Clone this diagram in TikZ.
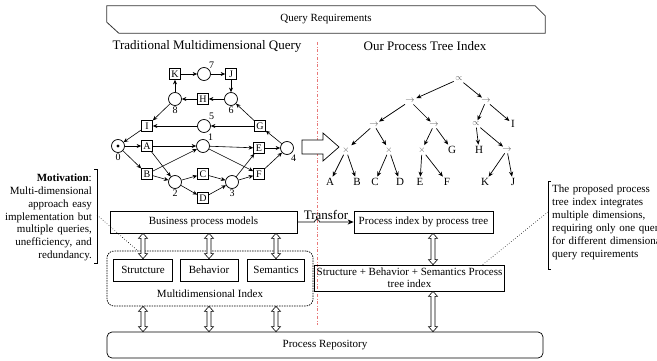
\documentclass[tikz,border=0pt]{standalone}
\usepackage{fontspec}
\setmainfont{Liberation Serif}
\usetikzlibrary{arrows.meta,positioning,calc}
\definecolor{sepred}{RGB}{232,120,120}

\begin{document}
\begin{tikzpicture}[
  x=1pt,y=-1pt,
  every node/.style={font=\fontsize{11}{13}\selectfont},
  title/.style={font=\fontsize{13}{13}\selectfont},
  box/.style={rectangle,draw,line width=0.7pt,inner sep=2pt,minimum height=22pt},
  place/.style={circle,draw,line width=0.7pt,minimum size=13pt,inner sep=0pt},
  trans/.style={rectangle,draw,line width=0.7pt,minimum size=11pt,inner sep=0pt,font=\fontsize{10}{10}\selectfont},
  num/.style={font=\fontsize{10}{10}\selectfont,inner sep=0.5pt},
  flow/.style={-{Stealth[length=4.5pt,width=4pt]},line width=0.6pt},
  op/.style={text=black!65,font=\fontsize{9}{9}\selectfont,inner sep=1.5pt},
  leaf/.style={font=\fontsize{11}{11}\selectfont,inner sep=1.5pt},
  treearc/.style={-{Stealth[length=5pt,width=4.2pt]},line width=0.7pt},
  dbl/.style={draw,fill=white,line width=0.6pt,to path={
    let \p1=(\tikztostart),\p2=(\tikztotarget) in
    (\x1,\y1) -- (\x1+4.5pt,\y1-5pt) -- (\x1+2pt,\y1-5pt) -- (\x1+2pt,\y2+5pt)
    -- (\x1+4.5pt,\y2+5pt) -- (\x1,\y2) -- (\x1-4.5pt,\y2+5pt) -- (\x1-2pt,\y2+5pt)
    -- (\x1-2pt,\y1-5pt) -- (\x1-4.5pt,\y1-5pt) -- cycle}}
]
\useasboundingbox (0,0) rectangle (657,361);

% query requirements banner
\node[minimum width=438pt,minimum height=27pt,inner sep=0pt] (query) at (326,19.5) {Query Requirements};
\draw[line width=0.8pt,draw=black!80] (query.north west) -- ($(query.north east)+(-10,0)$)
  -- ($(query.north east)+(0,10)$) -- (query.south east) -- ($(query.south west)+(12,0)$)
  -- ($(query.south west)+(0,-11)$) -- cycle;

\node[title] (tradtitle) at (207,46) {Traditional Multidimensional Query};
\node[title] (treetitle) at (425,46) {Our Process Tree Index};

% separator
\draw[sepred,dash dot,line width=0.7pt] (317,42) -- (317,325);

% petri net
\node[trans] (tK) at (175,74) {K};
\node[place,label={[num]50:7}] (p7) at (204,74) {};
\node[trans] (tJ) at (231,74) {J};
\node[place,label={[num]below:8}] (p8) at (175,99) {};
\node[trans] (tH) at (203,99) {H};
\node[place,label={[num]below:6}] (p6) at (231,99) {};
\node[trans] (tI) at (147,126) {I};
\node[place,label={[num]50:5}] (p5) at (204,126) {};
\node[trans] (tG) at (260,126) {G};
\node[place,label={[num]below:0}] (p0) at (118,146) {};
\node[trans] (tA) at (147,146) {A};
\node[place,label={[num]50:1}] (p1) at (203,146) {};
\node[trans] (tE) at (259,148) {E};
\node[place,label={[num]-60:4}] (p4) at (287,148) {};
\node[trans] (tB) at (147,174) {B};
\node[place,label={[num]below:2}] (p2) at (175,182) {};
\node[trans] (tC) at (203,174) {C};
\node[trans] (tD) at (203,198) {D};
\node[place,label={[num]below:3}] (p3) at (232,182) {};
\node[trans] (tF) at (259,174) {F};
\fill (p0) circle (1.6pt);

\draw[flow] (tK) -- (p7);
\draw[flow] (p7) -- (tJ);
\draw[flow] (tJ) -- (p6);
\draw[flow] (p6) -- (tH);
\draw[flow] (tH) -- (p8);
\draw[flow] (p8) -- (tK);
\draw[flow] (p8) -- (tI);
\draw[flow] (tG) -- (p6);
\draw[flow] (tG) -- (p5);
\draw[flow] (p5) -- (tI);
\draw[flow] (tI) -- (p0);
\draw[flow] (p0) -- (tA);
\draw[flow] (p0) -- (tB);
\draw[flow] (tA) -- (p1);
\draw[flow] (tA) -- (p2);
\draw[flow] (tB) -- (p1);
\draw[flow] (tB) -- (p2);
\draw[flow] (p2) -- (tC);
\draw[flow] (p2) -- (tD);
\draw[flow] (tC) -- (p3);
\draw[flow] (tD) -- (p3);
\draw[flow] (p1) -- (tE);
\draw[flow] (p1) -- (tF);
\draw[flow] (p3) -- (tE);
\draw[flow] (p3) -- (tF);
\draw[flow] (tE) -- (p4);
\draw[flow] (tF) -- (p4);
\draw[flow] (p4) -- (tG);

% big hollow arrow
\draw[line width=0.7pt,fill=white] (302,140) -- (323,140) -- (323,133) -- (339,147)
  -- (323,161) -- (323,154) -- (302,154) -- cycle;

% process tree
\node[op] (root) at (459,79) {$\propto$};
\node[op] (sq1) at (410,101) {$\rightarrow$};
\node[op] (sq2) at (486,101) {$\rightarrow$};
\node[op] (sq3) at (374,125) {$\rightarrow$};
\node[op] (sq4) at (434,125) {$\rightarrow$};
\node[op] (lp) at (476,124) {$\propto$};
\node[leaf] (lI) at (513,124) {I};
\node[op] (xo1) at (346,150) {$\times$};
\node[op] (xo2) at (389,150) {$\times$};
\node[op] (xo3) at (422,150) {$\times$};
\node[leaf] (lG) at (452,150) {G};
\node[leaf] (lH) at (479,150) {H};
\node[op] (sq5) at (507,150) {$\rightarrow$};
\node[leaf] (lA) at (330,182) {A};
\node[leaf] (lB) at (357,182) {B};
\node[leaf] (lC) at (375,182) {C};
\node[leaf] (lD) at (400,182) {D};
\node[leaf] (lE) at (420,182) {E};
\node[leaf] (lF) at (447,182) {F};
\node[leaf] (lK) at (485,182) {K};
\node[leaf] (lJ) at (513,182) {J};

\draw[treearc] (root) -- (sq1);
\draw[treearc] (root) -- (sq2);
\draw[treearc] (sq1) -- (sq3);
\draw[treearc] (sq1) -- (sq4);
\draw[treearc] (sq2) -- (lp);
\draw[treearc] (sq2) -- (lI);
\draw[treearc] (sq3) -- (xo1);
\draw[treearc] (sq3) -- (xo2);
\draw[treearc] (sq4) -- (xo3);
\draw[treearc] (sq4) -- (lG);
\draw[treearc] (lp) -- (lH);
\draw[treearc] (lp) -- (sq5);
\draw[treearc] (xo1) -- (lA);
\draw[treearc] (xo1) -- (lB);
\draw[treearc] (xo2) -- (lC);
\draw[treearc] (xo2) -- (lD);
\draw[treearc] (xo3) -- (lE);
\draw[treearc] (xo3) -- (lF);
\draw[treearc] (sq5) -- (lK);
\draw[treearc] (sq5) -- (lJ);

% model boxes
\node[box,minimum width=187pt] (bpm) at (203.5,222) {Business process models};
\node[box,minimum width=139pt] (pit) at (423.5,222) {Process index by process tree};
\node[box,minimum width=169pt,minimum height=26pt,align=center,
  font=\fontsize{11}{12}\selectfont] (sbs) at (409.5,278) {Structure + Behavior + Semantics Process\\tree index};

\node[draw,line width=0.7pt,dash pattern=on 1.5pt off 1pt,rounded corners=7pt,
  minimum width=206pt,minimum height=55pt] (mdi) at (210,278.5) {};
\node[box,minimum width=59pt] (strc) at (143,270) {Strutcture};
\node[box,minimum width=58pt] (behv) at (209,270) {Behavior};
\node[box,minimum width=57pt] (sema) at (276,270) {Semantics};
\node (mdilabel) at (210,294) {Multidimensional Index};

\node[draw,line width=0.7pt,rounded corners=5pt,minimum width=436pt,minimum height=26pt] (repo) at (325,345) {Process Repository};

% connectors
\coordinate (hop) at (317,222);
\draw[-{Stealth[length=6pt,width=5pt]},line width=0.7pt] (bpm.east) -- ([xshift=-2.5pt]hop)
  arc[start angle=180,end angle=0,radius=2.5pt] -- (pit.west);
\node[title,anchor=base] (tlabel) at (326,219.5) {Transfor};

\draw[dbl] (bpm.south -| strc.north) to (strc.north);
\draw[dbl] (bpm.south -| behv.north) to (behv.north);
\draw[dbl] (bpm.south -| sema.north) to (sema.north);
\draw[dbl] (mdi.south -| strc.south) to (repo.north -| strc.south);
\draw[dbl] (mdi.south -| behv.south) to (repo.north -| behv.south);
\draw[dbl] (mdi.south -| sema.south) to (repo.north -| sema.south);
\draw[dbl] (pit.south -| 433,0) to (sbs.north -| 433,0);
\draw[dbl] (sbs.south -| 433,0) to (repo.north -| 433,0);

% annotations
\node[align=right,text width=92pt,inner sep=0pt,anchor=east,
  font=\fontsize{11}{12.8}\selectfont] (motiv) at (92,217.5)
  {\textbf{Motivation}:\\Multi-dimensional\\approach easy\\implementation but\\multiple queries,\\unefficiency, and\\redundancy.};
\draw[line width=0.6pt] (94,169) -- (97,169) -- (97,263) -- (94,263);
\coordinate (lbr) at (97,215);
\draw[dotted,line width=0.6pt] (lbr) -- ($(mdi.north west)+(31,0)$);

\node[align=left,text width=115pt,inner sep=0pt,anchor=west,
  font=\fontsize{11}{13}\selectfont] (propo) at (552,222.5)
  {The proposed process\\tree index integrates\\multiple dimensions,\\requiring only one query\\for different dimensional\\query requirements};
\draw[line width=0.6pt] (551,181) -- (548,181) -- (548,269) -- (551,269);
\coordinate (rbr) at (548,212);
\draw[dotted,line width=0.6pt] (rbr) -- ($(sbs.north east)+(-22,0)$);
\end{tikzpicture}
\end{document}
